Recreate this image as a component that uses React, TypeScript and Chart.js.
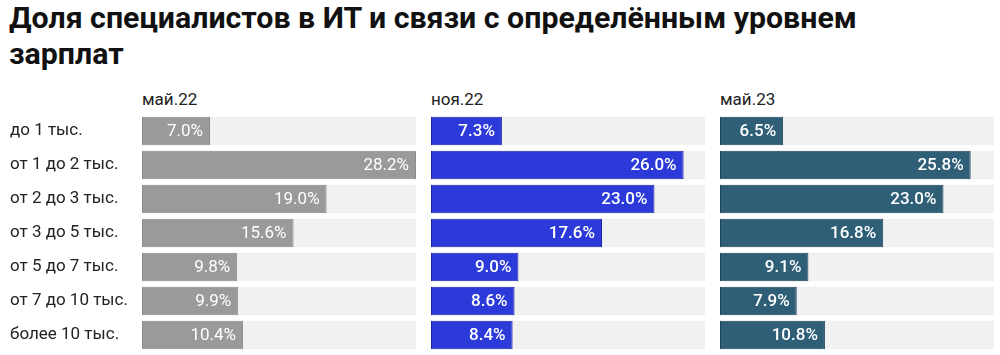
import React, { useEffect, useRef } from "react";
import { Chart, registerables } from "chart.js";

Chart.register(...registerables);

const TITLE_LINE1 = "Доля специалистов в ИТ и связи с определённым уровнем";
const TITLE_LINE2 = "зарплат";

const categories = [
  "до 1 тыс.",
  "от 1 до 2 тыс.",
  "от 2 до 3 тыс.",
  "от 3 до 5 тыс.",
  "от 5 до 7 тыс.",
  "от 7 до 10 тыс.",
  "более 10 тыс.",
];

const panelTitles = ["май.22", "ноя.22", "май.23"];
const may22 = [7.0, 28.2, 19.0, 15.6, 9.8, 9.9, 10.4];
const nov22 = [7.3, 26.0, 23.0, 17.6, 9.0, 8.6, 8.4];
const may23 = [6.5, 25.8, 23.0, 16.8, 9.1, 7.9, 10.8];
const scaleMax = 28.2;

const panelColors = [
  { fill: "#9a9a9a", border: "#8c8c8c", weight: 400 },
  { fill: "#2b3ad9", border: "#1d27a6", weight: 500 },
  { fill: "#2e5f77", border: "#1f455a", weight: 500 },
];

const FONT = "Roboto, 'Noto Sans', sans-serif";

const valueLabels = {
  id: "valueLabels",
  afterDatasetsDraw(chart: any, _args: any, opts: any) {
    const ctx = chart.ctx;
    const meta = chart.getDatasetMeta(0);
    const data = chart.data.datasets[0].data as number[];
    ctx.save();
    ctx.font = `${opts.weight || 400} 17px ${FONT}`;
    ctx.fillStyle = "#ffffff";
    ctx.textAlign = "right";
    ctx.textBaseline = "middle";
    meta.data.forEach((el: any, i: number) => {
      ctx.fillText(data[i].toFixed(1) + "%", el.x - 7, el.y + 1);
    });
    ctx.restore();
  },
};

function Panel({ values, idx, left, width, showLabels }: any) {
  const ref = useRef<HTMLCanvasElement>(null);
  useEffect(() => {
    if (!ref.current) return;
    const col = panelColors[idx];
    const yScale: any = showLabels
      ? {
          display: true,
          grid: { display: false, drawTicks: false },
          border: { display: false },
          ticks: {
            crossAlign: "far",
            padding: 0,
            color: "#222222",
            font: { family: FONT, size: 17 },
          },
          afterFit: (s: any) => {
            s.width = 132;
            s.paddingTop = 0;
            s.paddingBottom = 0;
          },
        }
      : { display: false };
    const chart = new Chart(ref.current, {
      type: "bar",
      data: {
        labels: categories,
        datasets: [
          {
            data: values,
            backgroundColor: col.fill,
            borderColor: col.border,
            borderWidth: 1,
            borderSkipped: false,
            grouped: false,
            categoryPercentage: 1,
            barPercentage: 0.84,
          } as any,
          {
            data: categories.map(() => scaleMax),
            backgroundColor: "#f1f1f1",
            borderWidth: 0,
            grouped: false,
            categoryPercentage: 1,
            barPercentage: 0.84,
          } as any,
        ],
      },
      options: {
        indexAxis: "y",
        responsive: false,
        animation: false,
        layout: { padding: { left: showLabels ? 10 : 0, right: 0, top: 0, bottom: 0 } },
        plugins: {
          legend: { display: false },
          tooltip: { enabled: false },
          title: { display: false },
          valueLabels: { weight: col.weight },
        } as any,
        scales: {
          x: { display: false, min: 0, max: scaleMax },
          y: yScale,
        },
      },
      plugins: [valueLabels],
    });
    return () => chart.destroy();
  }, []);
  return (
    <canvas
      ref={ref}
      width={width}
      height={238}
      style={{ position: "absolute", left, top: 114, width, height: 238 }}
    />
  );
}

export default function App() {
  const headerLefts = [142, 431, 720];
  return (
    <div
      style={{
        position: "absolute",
        left: 0,
        top: 0,
        width: 1000,
        height: 355,
        background: "#ffffff",
        fontFamily: FONT,
        overflow: "hidden",
      }}
    >
      <div
        style={{
          position: "absolute",
          left: 9,
          top: 0,
          fontSize: 30.3,
          fontWeight: 700,
          lineHeight: "36px",
          color: "#111111",
          whiteSpace: "nowrap",
        }}
      >
        {TITLE_LINE1}
        <br />
        {TITLE_LINE2}
      </div>
      {panelTitles.map((t, i) => (
        <div
          key={t}
          style={{
            position: "absolute",
            left: headerLefts[i],
            top: 89,
            fontSize: 17,
            color: "#222222",
            lineHeight: "normal",
          }}
        >
          {t}
        </div>
      ))}
      <Panel values={may22} idx={0} left={0} width={416} showLabels={true} />
      <Panel values={nov22} idx={1} left={431} width={274} showLabels={false} />
      <Panel values={may23} idx={2} left={720} width={274} showLabels={false} />
    </div>
  );
}
